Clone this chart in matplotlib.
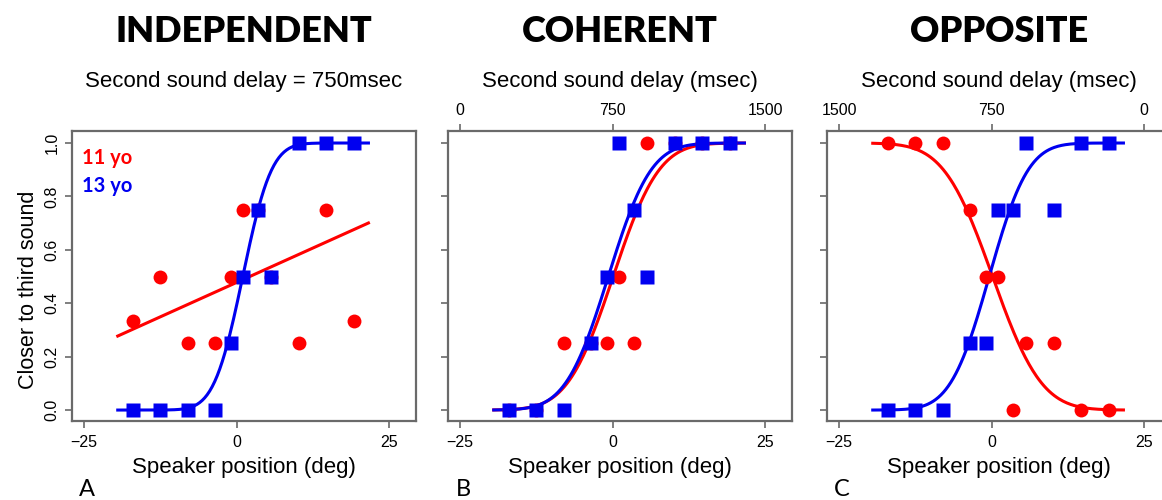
import math
import numpy as np
import matplotlib
matplotlib.use("Agg")
import matplotlib.pyplot as plt

# speaker positions (deg), shared by all panels
positions = [-17, -12.5, -8, -3.5, -1, 1, 3.5, 5.7, 10.2, 14.6, 19.2]

# proportion "closer to third sound"
indep_11 = [0.333, 0.5, 0.25, 0.25, 0.5, 0.75, 0.75, 0.5, 0.25, 0.75, 0.333]
indep_13 = [0, 0, 0, 0, 0.25, 0.5, 0.75, 0.5, 1, 1, 1]
coher_11 = [0, 0, 0.25, 0.25, 0.25, 0.5, 0.25, 1, 1, 1, 1]
coher_13 = [0, 0, 0, 0.25, 0.5, 1, 0.75, 0.5, 1, 1, 1]
oppos_11 = [1, 1, 1, 0.75, 0.5, 0.5, 0, 0.25, 0.25, 0, 0]
oppos_13 = [0, 0, 0, 0.25, 0.25, 0.75, 0.75, 1, 0.75, 1, 1]

# fitted curves: ('lin', intercept, slope) or ('probit', mean, sd, direction)
fits = {
    "A": [("lin", 0.478, 0.0103), ("probit", 1.0, 3.7, 1)],
    "B": [("probit", 0.08, 5.9, 1), ("probit", -0.72, 5.5, 1)],
    "C": [("probit", 0.15, 6.3, -1), ("probit", -0.4, 5.0, 1)],
}
fit_range = (-19.5, 21.6)

titles = ["INDEPENDENT", "COHERENT", "OPPOSITE"]
subtitles = ["Second sound delay = 750msec", "Second sound delay (msec)",
             "Second sound delay (msec)"]
letters = ["A", "B", "C"]

RED = "#ff0000"
BLUE = "#0000f0"
FRAME = "#6a6a6a"

W, H = 1162, 500
fig = plt.figure(figsize=(W / 100, H / 100), dpi=100)
plt.rcParams["font.family"] = ["Liberation Sans", "DejaVu Sans"]


def curve(x, fit):
    if fit[0] == "lin":
        return fit[1] + fit[2] * x
    _, m, s, d = fit
    p = np.array([0.5 * (1 + math.erf((v - m) / (s * math.sqrt(2)))) for v in x])
    return p if d > 0 else 1 - p


lefts = [72, 448, 827]
data = [(indep_11, indep_13), (coher_11, coher_13), (oppos_11, oppos_13)]
keys = ["A", "B", "C"]
xs = np.linspace(fit_range[0], fit_range[1], 200)

for i in range(3):
    ax = fig.add_axes([lefts[i] / W, 79 / H, 344 / W, 290 / H])
    red_y, blue_y = data[i]
    fit_red, fit_blue = fits[keys[i]]
    ax.plot(xs, curve(xs, fit_red), color=RED, lw=2.2, zorder=2)
    ax.plot(xs, curve(xs, fit_blue), color=BLUE, lw=2.2, zorder=2)
    ax.plot(positions, red_y, "o", color=RED, ms=10, mec="none", zorder=3)
    ax.plot(positions, blue_y, "s", color=BLUE, ms=9.5, mec="none", zorder=3)

    ax.set_xlim(-27, 29.4)
    ax.set_ylim(-0.041, 1.045)
    ax.set_xticks([-25, 0, 25])
    ax.set_yticks([0, 0.2, 0.4, 0.6, 0.8, 1.0])
    for sp in ax.spines.values():
        sp.set_color(FRAME)
        sp.set_linewidth(1.6)
    ax.tick_params(axis="x", length=5, width=1.2, color=FRAME, pad=5,
                   labelsize=11.5)
    ax.tick_params(axis="y", length=5, width=1.2, color=FRAME, pad=4,
                   labelsize=11.5, labelrotation=90)
    for lab in ax.get_yticklabels():
        lab.set_va("center")
    if i == 0:
        ax.set_yticklabels(["0.0", "0.2", "0.4", "0.6", "0.8", "1.0"])
        fig.text(29 / W, 1 - 290 / H, "Closer to third sound", rotation=90,
                 ha="center", va="center", fontsize=15.5)
        fig.text(82 / W, 1 - 158 / H, "11 yo", color=RED, fontsize=14.5,
                 family="Lato", weight="bold", ha="left", va="center")
        fig.text(82 / W, 1 - 186 / H, "13 yo", color=BLUE, fontsize=14.5,
                 family="Lato", weight="bold", ha="left", va="center")
    else:
        ax.set_yticklabels([])
        if i == 1:
            sec = ax.secondary_xaxis("top", functions=(lambda d: (d + 25) * 30,
                                                       lambda m: m / 30 - 25))
        else:
            sec = ax.secondary_xaxis("top", functions=(lambda d: (25 - d) * 30,
                                                       lambda m: 25 - m / 30))
        sec.set_xticks([0, 750, 1500])
        sec.spines["top"].set_visible(False)
        sec.tick_params(length=5, width=1.2, color=FRAME, pad=4, labelsize=11.5)

    cx = (lefts[i] + 172) / W
    fig.text(cx, 1 - 32 / H, titles[i], family="Lato", weight="heavy",
             fontsize=26, ha="center", va="center")
    fig.text(cx, 1 - 82 / H, subtitles[i], fontsize=16, ha="center",
             va="center")
    fig.text(cx, 1 - 467 / H, "Speaker position (deg)", fontsize=16,
             ha="center", va="center")
    fig.text((lefts[i] + 15) / W, 1 - 490 / H, letters[i], family="Lato",
             fontsize=17, ha="center", va="center")

fig.savefig("out.png", dpi=100)
